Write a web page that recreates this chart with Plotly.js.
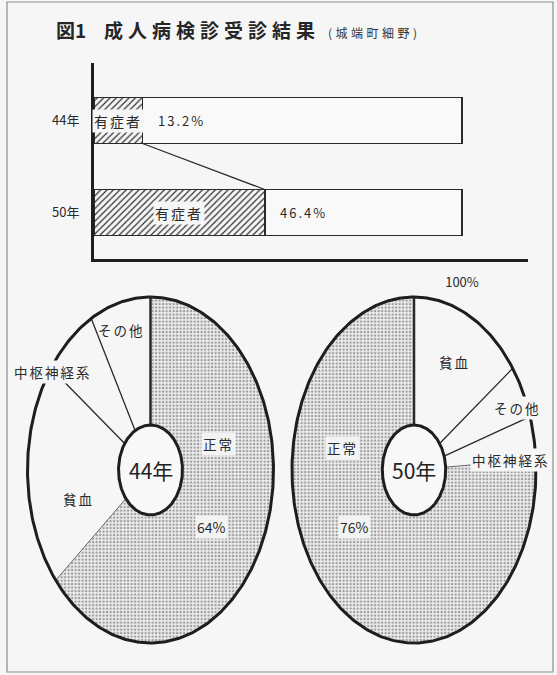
<!DOCTYPE html>
<html><head><meta charset="utf-8">
<script src="https://cdn.plot.ly/plotly-3.0.1.min.js"></script>
<style>html,body{margin:0;padding:0;background:#f6f6f6}</style>
</head><body><div id="chart" style="width:557px;height:675px"></div>
<script>
// ---- data ----
const barYears = ['44年', '50年'];
const affectedPct = [13.2, 46.4];
const affectedLabel = '有症者';
const fullPct = 100;
const pieYears = ['44年', '50年'];
const pie44Labels = ['正常', '貧血', '中枢神経系', 'その他'];
const pie44Values = [64, 21, 7, 8];
const pie50Labels = ['貧血', 'その他', '中枢神経系', '正常'];
const pie50Values = [15, 5, 4, 76];
const normalLabel = '正常';
const titleText = '図1';
const titleMain = '成人病検診受診結果';
const subtitleText = '(城端町細野)';

// ---- layout helpers ----
const W = 557, H = 675;
const px = x => x / W, py = y => 1 - y / H;
const FONT = 'Noto Sans CJK JP, Noto Sans, sans-serif';
const INK = '#2a2a2a';
const BG = '#f6f6f6';
const HOLE = 0.26;
const PAD = 1.05;

function pieDomain(cx, cy, a, b) {
  return {
    x: [px(cx - a * PAD), px(cx + a * PAD)],
    y: [py(cy + b * PAD), py(cy - b * PAD)]
  };
}
const dom44 = pieDomain(150.5, 470, 123, 173);
const dom50 = pieDomain(414, 470, 122, 173);

const traces = [];

// ---- bar chart ----
traces.push({
  type: 'bar', orientation: 'h', x: affectedPct, y: [0, 1], width: 0.5,
  marker: { color: BG, line: { color: INK, width: 1.5 },
    pattern: { shape: '/', fgcolor: '#333', bgcolor: BG, size: 4.5, solidity: 0.28 } },
  hoverinfo: 'skip', showlegend: false, xaxis: 'x', yaxis: 'y'
});
traces.push({
  type: 'bar', orientation: 'h', x: affectedPct.map(v => fullPct - v), y: [0, 1], width: 0.5,
  marker: { color: '#f9f9f9', line: { color: INK, width: 1.5 } },
  hoverinfo: 'skip', showlegend: false, xaxis: 'x', yaxis: 'y'
});
traces.push({
  type: 'scatter', mode: 'lines', x: affectedPct, y: [0 + 0.25, 1 - 0.25],
  line: { color: INK, width: 1.2 }, hoverinfo: 'skip', showlegend: false, xaxis: 'x', yaxis: 'y'
});

// ---- elliptical donut pies ----
function arc(r, t0, t1) {
  const xs = [], ys = [];
  const n = Math.max(2, Math.ceil(Math.abs(t1 - t0) * 360));
  for (let i = 0; i <= n; i++) {
    const th = 2 * Math.PI * (t0 + (t1 - t0) * i / n);
    xs.push(r * Math.sin(th)); ys.push(r * Math.cos(th));
  }
  return [xs, ys];
}
function addPie(labels, values, ax, ay) {
  const total = values.reduce((s, v) => s + v, 0);
  let cum = 0;
  const bounds = [];
  labels.forEach((lab, i) => {
    const t0 = cum / total, t1 = (cum + values[i]) / total;
    cum += values[i];
    bounds.push({ t: t0, nextNormal: lab === normalLabel, prevNormal: labels[(i - 1 + labels.length) % labels.length] === normalLabel });
    const [ox, oy] = arc(1, t0, t1);
    const [ix, iy] = arc(HOLE, t1, t0);
    const isNormal = lab === normalLabel;
    const tr = {
      type: 'scatter', mode: 'lines', x: ox.concat(ix, [ox[0]]), y: oy.concat(iy, [oy[0]]),
      fill: 'toself', fillcolor: isNormal ? '#e2e2e2' : BG,
      line: { width: 0 }, hoverinfo: 'skip', showlegend: false, xaxis: ax, yaxis: ay
    };
    if (isNormal) tr.fillpattern = { shape: '.', fgcolor: '#9a9a9a', bgcolor: '#ebebeb', size: 3.5, solidity: 0.35 };
    traces.push(tr);
  });
  bounds.forEach(b => {
    const th = 2 * Math.PI * b.t;
    const top = Math.abs(b.t) < 1e-9;
    traces.push({
      type: 'scatter', mode: 'lines',
      x: [HOLE * Math.sin(th), Math.sin(th)], y: [HOLE * Math.cos(th), Math.cos(th)],
      line: { color: top ? INK : (b.nextNormal || b.prevNormal ? '#6a6a6a' : INK), width: top ? 2.5 : (b.nextNormal || b.prevNormal ? 1 : 1.3) },
      hoverinfo: 'skip', showlegend: false, xaxis: ax, yaxis: ay
    });
  });
  const [ex, ey] = arc(1, 0, 1);
  traces.push({ type: 'scatter', mode: 'lines', x: ex, y: ey, line: { color: '#1e1e1e', width: 3 },
    hoverinfo: 'skip', showlegend: false, xaxis: ax, yaxis: ay });
  const [hx, hy] = arc(HOLE, 0, 1);
  traces.push({ type: 'scatter', mode: 'lines', x: hx, y: hy, fill: 'toself', fillcolor: '#f8f8f8',
    line: { color: '#1e1e1e', width: 3 }, hoverinfo: 'skip', showlegend: false, xaxis: ax, yaxis: ay });
}
addPie(pie44Labels, pie44Values, 'x2', 'y2');
addPie(pie50Labels, pie50Values, 'x3', 'y3');

// ---- annotations ----
const ann = [];
const txt = (size, color) => ({ family: FONT, size: size, color: color || INK });
ann.push({ xref: 'paper', yref: 'paper', x: px(54), y: py(30), xanchor: 'left', yanchor: 'middle',
  text: titleText, showarrow: false, font: { family: FONT, size: 19, color: '#262626', weight: 'bold' } });
ann.push({ xref: 'paper', yref: 'paper', x: px(102), y: py(30), xanchor: 'left', yanchor: 'middle',
  text: '<span style="letter-spacing:5px">' + titleMain + '</span>', showarrow: false,
  font: { family: FONT, size: 19, color: '#262626', weight: 'bold' } });
ann.push({ xref: 'paper', yref: 'paper', x: px(326), y: py(32), xanchor: 'left', yanchor: 'middle',
  text: '<span style="letter-spacing:3.5px">' + subtitleText + '</span>', showarrow: false, font: txt(12, '#333') });

affectedPct.forEach((v, i) => {
  ann.push({ xref: 'x', yref: 'y', x: v / 2, y: i, text: '<span style="letter-spacing:2px">' + affectedLabel + '</span>',
    showarrow: false, bgcolor: BG, borderpad: 1, font: txt(14) });
  ann.push({ xref: 'x', yref: 'y', x: v, y: i, xanchor: 'left', xshift: 13, text: '<span style="letter-spacing:2px">' + v.toFixed(1) + '%</span>',
    showarrow: false, font: txt(13) });
});

function pieLabel(ax, ay, x, y, text, opts) {
  ann.push(Object.assign({ xref: ax, yref: ay, x: x, y: y, text: text, showarrow: false, font: txt(13.5) }, opts || {}));
}
const sp = s => '<span style="letter-spacing:2px">' + s + '</span>';
// 44年 pie
pieLabel('x2', 'y2', 0, 0, pieYears[0], { font: txt(21, '#222') });
pieLabel('x2', 'y2', -0.236, 0.809, sp(pie44Labels[3]));
pieLabel('x2', 'y2', -0.789, 0.566, sp(pie44Labels[2]), { bgcolor: BG });
pieLabel('x2', 'y2', -0.589, -0.168, sp(pie44Labels[1]));
pieLabel('x2', 'y2', 0.549, 0.150, sp(pie44Labels[0]), { bgcolor: '#f3f3f3' });
pieLabel('x2', 'y2', 0.492, -0.329, pie44Values[0] + '%', { bgcolor: '#f3f3f3', font: txt(14) });
// 50年 pie
pieLabel('x3', 'y3', 0, 0, pieYears[1], { font: txt(21, '#222') });
pieLabel('x3', 'y3', 0.336, 0.624, sp(pie50Labels[0]));
pieLabel('x3', 'y3', 0.852, 0.358, sp(pie50Labels[1]), { bgcolor: BG });
pieLabel('x3', 'y3', 0.459, 0.058, sp(pie50Labels[2]), { xanchor: 'left', bgcolor: BG });
pieLabel('x3', 'y3', -0.59, 0.127, sp(pie50Labels[3]), { bgcolor: '#f3f3f3' });
pieLabel('x3', 'y3', -0.484, -0.329, pie50Values[3] + '%', { bgcolor: '#f3f3f3', font: txt(14) });

const hidden = { visible: false, range: [-PAD, PAD], fixedrange: true };
const layout = {
  width: W, height: H, margin: { l: 0, r: 0, t: 0, b: 0 },
  paper_bgcolor: BG, plot_bgcolor: 'rgba(0,0,0,0)',
  barmode: 'stack', showlegend: false,
  xaxis: { domain: [px(94), px(527.5)], range: [0, 117.8], showgrid: false, zeroline: false,
    showline: true, linewidth: 3, linecolor: '#1e1e1e', ticks: '',
    tickvals: [fullPct], ticktext: [fullPct + '%'], tickfont: txt(13), ticklabelstandoff: 9, fixedrange: true },
  yaxis: { domain: [py(259), py(63)], range: [1.505, -0.625], showgrid: false, zeroline: false,
    showline: true, linewidth: 3, linecolor: '#1e1e1e', ticks: '',
    tickvals: [0, 1], ticktext: barYears, tickfont: txt(13), ticklabelstandoff: 9, fixedrange: true },
  xaxis2: Object.assign({ domain: dom44.x, anchor: 'y2' }, hidden),
  yaxis2: Object.assign({ domain: dom44.y, anchor: 'x2' }, hidden),
  xaxis3: Object.assign({ domain: dom50.x, anchor: 'y3' }, hidden),
  yaxis3: Object.assign({ domain: dom50.y, anchor: 'x3' }, hidden),
  annotations: ann,
  shapes: [{ type: 'rect', xref: 'paper', yref: 'paper', x0: px(7), x1: px(553), y0: py(672), y1: py(2),
    line: { color: '#8c8c8c', width: 1.2 }, layer: 'below' }]
};
Plotly.newPlot('chart', traces, layout, { staticPlot: true, displayModeBar: false });
</script></body></html>
